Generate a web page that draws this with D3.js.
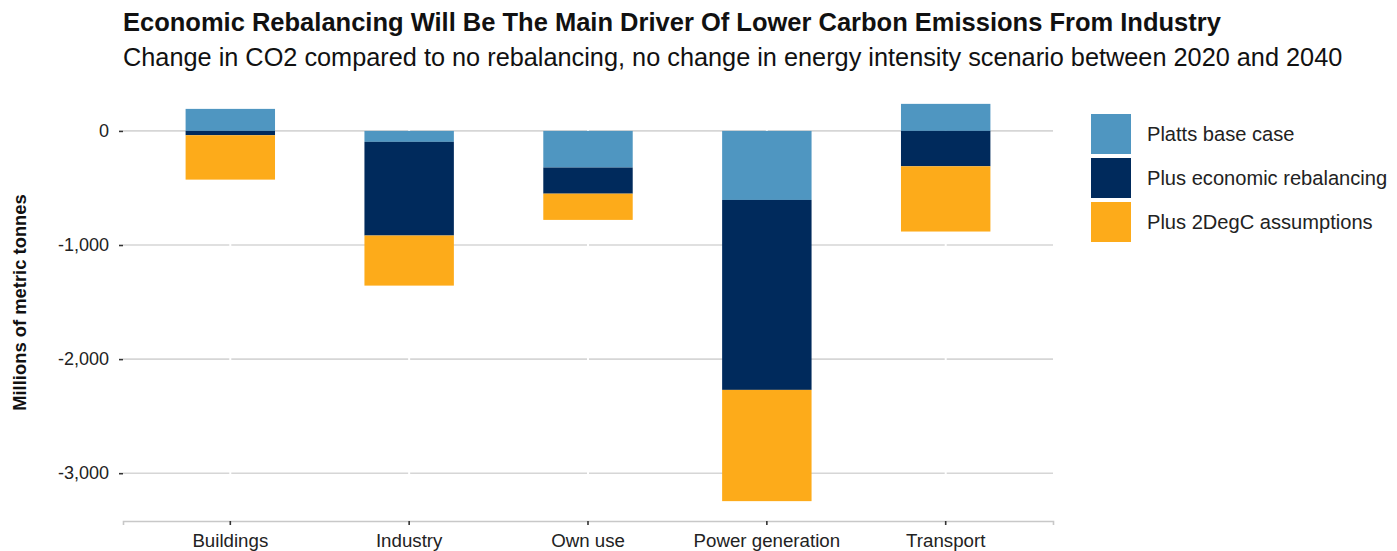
<!DOCTYPE html>
<html>
<head>
<meta charset="utf-8">
<script src="https://cdn.jsdelivr.net/npm/d3@7"></script>
<style>
  html, body { margin: 0; padding: 0; background: #ffffff; }
  svg { display: block; font-family: "Liberation Sans", Arial, sans-serif; }
</style>
</head>
<body>
<svg id="chart" width="1397" height="551"></svg>
<script>
// Sectors on the x axis
const categories = ["Buildings", "Industry", "Own use", "Power generation", "Transport"];

// Change in CO2 (millions of metric tonnes) for each scenario step
const plattsBase = [193, -96, -321, -605, 237];
const economicRebalancing = [-38, -821, -229, -1665, -310];
const twoDegC = [-389, -439, -230, -975, -572];

const seriesNames = ["Platts base case", "Plus economic rebalancing", "Plus 2DegC assumptions"];
const seriesColors = ["#4f96c1", "#002a5c", "#fdab1a"];
const yTicks = [0, -1000, -2000, -3000];

const title = "Economic Rebalancing Will Be The Main Driver Of Lower Carbon Emissions From Industry";
const subtitle = "Change in CO2 compared to no rebalancing, no change in energy intensity scenario between 2020 and 2040";
const yTitle = "Millions of metric tonnes";

const svg = d3.select("#chart");
const panel = { left: 123, right: 1053, top: 84, bottom: 521 };

const rows = categories.map((c, i) => ({
  category: c,
  s0: plattsBase[i],
  s1: economicRebalancing[i],
  s2: twoDegC[i]
}));
const keys = ["s0", "s1", "s2"];
const stacked = d3.stack().keys(keys).offset(d3.stackOffsetDiverging)(rows);

const lo = d3.min(stacked, s => d3.min(s, d => d[0]));
const hi = d3.max(stacked, s => d3.max(s, d => d[1]));
const pad = (hi - lo) * 0.05;

const x = d3.scaleBand()
  .domain(categories)
  .range([panel.left, panel.right])
  .paddingOuter(0.35)
  .paddingInner(0.5);
const y = d3.scaleLinear()
  .domain([lo - pad, hi + pad])
  .range([panel.bottom, panel.top]);

// Thousands separator with a plain hyphen for negatives
const fmt = d3.formatLocale({ decimal: ".", thousands: ",", grouping: [3], currency: ["", ""], minus: "-" }).format(",");

// Horizontal grid lines
svg.append("g")
  .selectAll("line")
  .data(yTicks)
  .join("line")
  .attr("x1", panel.left).attr("x2", panel.right)
  .attr("y1", d => y(d)).attr("y2", d => y(d))
  .attr("stroke", "#d6d6d6").attr("stroke-width", 1.6);

// Faint white vertical grid at category centres
svg.append("g")
  .selectAll("line")
  .data(categories)
  .join("line")
  .attr("x1", d => x(d) + x.bandwidth() / 2).attr("x2", d => x(d) + x.bandwidth() / 2)
  .attr("y1", panel.top).attr("y2", panel.bottom - 1)
  .attr("stroke", "#ffffff").attr("stroke-width", 2);

// Stacked bars
svg.append("g")
  .selectAll("g")
  .data(stacked)
  .join("g")
  .attr("fill", (d, i) => seriesColors[i])
  .selectAll("rect")
  .data(d => d)
  .join("rect")
  .attr("x", d => x(d.data.category))
  .attr("width", x.bandwidth())
  .attr("y", d => y(Math.max(d[0], d[1])))
  .attr("height", d => Math.abs(y(d[0]) - y(d[1])));

// Y axis
const yAxis = svg.append("g")
  .attr("transform", `translate(${panel.left},0)`)
  .call(d3.axisLeft(y).tickValues(yTicks).tickFormat(fmt).tickSize(4).tickPadding(10));
yAxis.select(".domain").remove();
yAxis.selectAll(".tick line").attr("stroke", "#333333").attr("stroke-width", 1.6);
yAxis.selectAll(".tick text")
  .attr("fill", "#222222")
  .style("font-size", "18px")
  .style("font-family", "'Liberation Sans', Arial, sans-serif");

// X axis
const xAxis = svg.append("g")
  .attr("transform", `translate(0,${panel.bottom})`)
  .call(d3.axisBottom(x).tickSize(4).tickPadding(9));
xAxis.select(".domain").attr("stroke", "#c8c8c8").attr("stroke-width", 1.6);
xAxis.selectAll(".tick line").attr("stroke", "#333333").attr("stroke-width", 1.6);
xAxis.selectAll(".tick text")
  .attr("fill", "#222222")
  .style("font-size", "18.7px")
  .style("font-family", "'Liberation Sans', Arial, sans-serif");

// Titles
svg.append("text")
  .attr("x", 123).attr("y", 31)
  .attr("font-weight", "bold").attr("font-size", 25.5).attr("fill", "#111111")
  .text(title);
svg.append("text")
  .attr("x", 123).attr("y", 66)
  .attr("font-size", 25.3).attr("fill", "#111111")
  .text(subtitle);

svg.append("text")
  .attr("transform", `translate(26,${(panel.top + panel.bottom) / 2}) rotate(-90)`)
  .attr("text-anchor", "middle")
  .attr("font-weight", "bold").attr("font-size", 18.4).attr("fill", "#111111")
  .text(yTitle);

// Legend
const legend = svg.append("g").attr("transform", "translate(1091,114)");
const item = legend.selectAll("g")
  .data(seriesNames)
  .join("g")
  .attr("transform", (d, i) => `translate(0,${i * 44})`);
item.append("rect")
  .attr("width", 40).attr("height", 40)
  .attr("fill", (d, i) => seriesColors[i]);
item.append("text")
  .attr("x", 56).attr("y", 20).attr("dy", "0.35em")
  .attr("font-size", 20.1).attr("fill", "#222222")
  .text(d => d);
</script>
</body>
</html>
